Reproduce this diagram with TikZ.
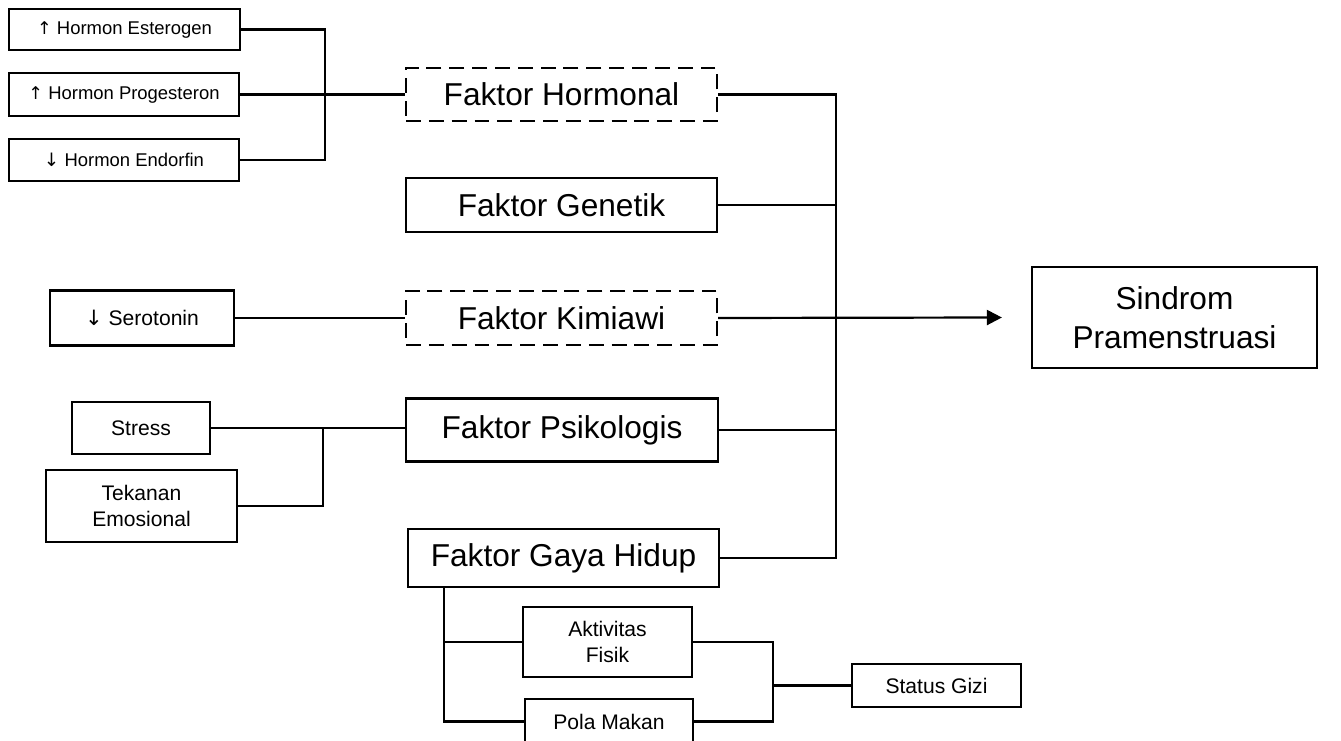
\documentclass[tikz,border=0pt]{standalone}
\usepackage{fontspec}
\setmainfont{Liberation Sans}
\newfontfamily\arrowfont{DejaVu Sans}
\usetikzlibrary{arrows.meta}

\newcommand{\upar}{{\arrowfont\fontsize{10}{12}\selectfont ↑}}
\newcommand{\downar}{{\arrowfont ↓}}

\tikzset{
	box/.style={draw, line width=1.25pt, shape=rectangle, inner sep=0pt, align=center},
	dashbox/.style={box, dash pattern=on 8.5pt off 4.5pt},
	bigtext/.style={font=\fontsize{18}{22}\selectfont},
	smalltext/.style={font=\fontsize{12}{14.5}\selectfont},
	hormtext/.style={font=\fontsize{10.5}{12}\selectfont},
	wire/.style={line width=1.25pt},
}

\begin{document}
\begin{tikzpicture}
		\useasboundingbox (0, 0) rectangle (26.82, -14.82);
		% Paths, nodes and wires:
		\node[box, hormtext, minimum width=4.62cm, minimum height=0.82cm] (esterogen) at (2.49, -0.59){\upar{} Hormon Esterogen};
		\node[box, hormtext, minimum width=4.6cm, minimum height=0.86cm] (progesteron) at (2.48, -1.89){\upar{} Hormon Progesteron};
		\node[box, hormtext, minimum width=4.6cm, minimum height=0.84cm] (endorfin) at (2.48, -3.2){\downar{} Hormon Endorfin};
		\node[dashbox, bigtext, minimum width=6.22cm, minimum height=1.06cm] (hormonal) at (11.23, -1.89){Faktor Hormonal};
		\node[box, bigtext, minimum width=6.22cm, minimum height=1.08cm] (genetik) at (11.23, -4.1){Faktor Genetik};
		\node[dashbox, bigtext, minimum width=6.22cm, minimum height=1.08cm] (kimiawi) at (11.23, -6.36){Faktor Kimiawi};
		\node[box, smalltext, minimum width=3.68cm, minimum height=1.1cm] (serotonin) at (2.84, -6.36){\downar{} Serotonin};
		\node[box, bigtext, minimum width=6.24cm, minimum height=1.26cm] (psikologis) at (11.24, -8.6){Faktor Psikologis};
		\node[box, smalltext, minimum width=2.76cm, minimum height=1.04cm] (stress) at (2.82, -8.56){Stress};
		\node[box, smalltext, minimum width=3.82cm, minimum height=1.44cm] (tekanan) at (2.83, -10.12){Tekanan\\Emosional};
		\node[box, bigtext, minimum width=6.22cm, minimum height=1.16cm] (gaya) at (11.27, -11.16){Faktor Gaya Hidup};
		\node[box, smalltext, minimum width=3.38cm, minimum height=1.4cm] (aktivitas) at (12.15, -12.84){Aktivitas\\Fisik};
		\node[box, smalltext, minimum width=3.36cm, minimum height=0.9cm] (pola) at (12.18, -14.43){Pola Makan};
		\node[box, smalltext, minimum width=3.38cm, minimum height=0.86cm] (status) at (18.73, -13.71){Status Gizi};
		\node[box, bigtext, minimum width=5.7cm, minimum height=2.02cm] (sindrom) at (23.49, -6.35){Sindrom\\Pramenstruasi};
		\coordinate (hbus) at (6.5, 0);
		\coordinate (mainbus) at (16.72, 0);
		\coordinate (psibus) at (6.46, 0);
		\coordinate (gbus) at (8.88, 0);
		\coordinate (sbus) at (15.46, 0);
		\draw[wire] (esterogen.east) -| (hbus |- endorfin.east) -- (endorfin.east);
		\draw[wire] (progesteron.east) -- (hormonal.west);
		\draw[wire] (serotonin.east) -- (kimiawi.west);
		\draw[wire] (stress.east) -- (stress.east -| psikologis.west);
		\draw[wire] (tekanan.east) -| (psibus |- stress.east);
		\draw[wire] (hormonal.east) -| (mainbus |- gaya.east) -- (gaya.east);
		\draw[wire] (genetik.east) -- (mainbus |- genetik.east);
		\draw[wire] (psikologis.east) -- (mainbus |- psikologis.east);
		\draw[wire, -{Triangle[length=0.3cm, width=0.3cm]}] (kimiawi.east) -- ([xshift=-0.58cm]sindrom.west);
		\draw[wire] (gaya.south -| gbus) |- (pola.west);
		\draw[wire] (gbus |- aktivitas.west) -- (aktivitas.west);
		\draw[wire] (aktivitas.east) -| (sbus |- pola.east) -- (pola.east);
		\draw[wire] (sbus |- status.west) -- (status.west);
	\end{tikzpicture}
\end{document}
